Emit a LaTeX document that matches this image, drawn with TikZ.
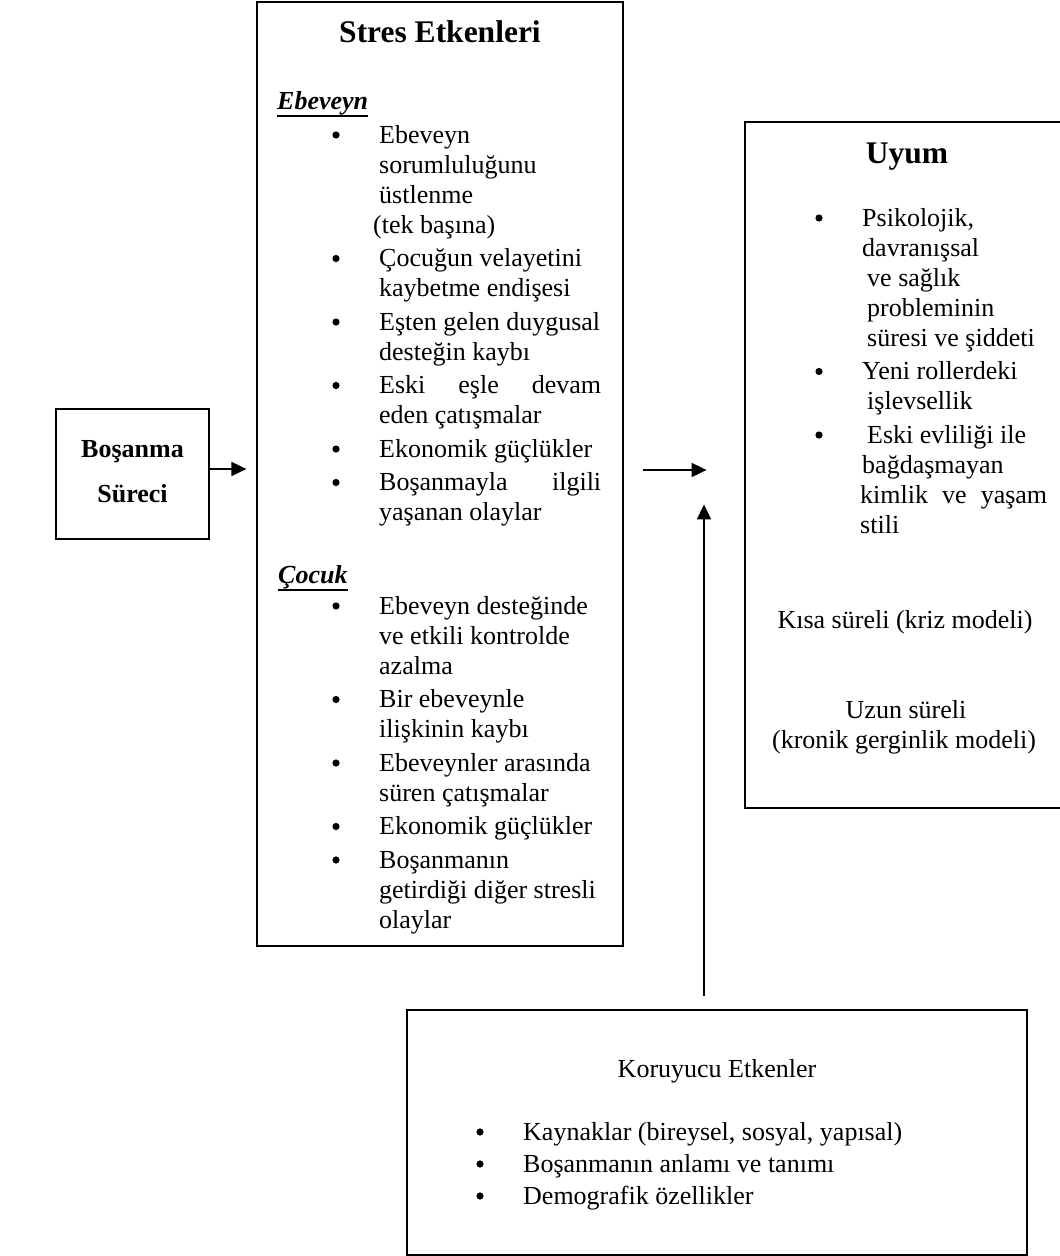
\documentclass[tikz,border=0pt]{standalone}
\usepackage{fontspec}
\setmainfont{Liberation Serif}
\usetikzlibrary{arrows.meta,calc}
\newcommand\hdrul[1]{\setbox0\hbox{#1}\rlap{\rule[-8pt]{\wd0}{1.8pt}}\box0}
\newcommand\jst[2]{\makebox[#1pt][s]{#2}}
\tikzset{
  box/.style={draw, line width=1.2pt, inner sep=0pt},
  ln/.style={anchor=base west, inner sep=0pt, font=\fontsize{26}{30}\selectfont},
  lnc/.style={anchor=base, inner sep=0pt, font=\fontsize{26}{30}\selectfont},
  ttl/.style={anchor=base, inner sep=0pt, font=\fontsize{31.5}{36}\selectfont\bfseries},
  bld/.style={anchor=base, inner sep=0pt, font=\fontsize{26}{30}\selectfont\bfseries},
  hdr/.style={anchor=base west, inner sep=0pt, font=\fontsize{26}{30}\selectfont\bfseries\itshape},
  conn/.style={line width=1.8pt, -{Triangle[length=15pt,width=14pt]}},
  blt/.style={fill=black}
}
\begin{document}
\begin{tikzpicture}[x=1pt,y=-1pt]
\useasboundingbox (0,0) rectangle (1060,1256);

% ---------- boxes ----------
\node[box, minimum width=153pt, minimum height=130pt] (bos) at (132.5,474) {};
\node[box, minimum width=366pt, minimum height=944pt] (stres) at (440,474) {};
\node[box, minimum width=330pt, minimum height=686pt] (uyum) at (910,465) {};
\node[box, minimum width=620pt, minimum height=245pt] (koru) at (717,1132.5) {};

% ---------- Boşanma Süreci ----------
\node[bld] (b1) at (132.5,457) {Boşanma};
\node[bld] (b2) at (132.5,502) {Süreci};

% ---------- Stres Etkenleri ----------
\node[ttl] (st) at (440,42) {Stres Etkenleri};
\node[hdr] (eh) at (277,109) {\hdrul{Ebeveyn}};
\node[ln] (e1a) at (379,143) {Ebeveyn};
\node[ln] (e1b) at (379,173) {sorumluluğunu};
\node[ln] (e1c) at (379,203) {üstlenme};
\node[ln] (e1d) at (373,233) {(tek başına)};
\node[ln] (e2a) at (379,266.5) {Çocuğun velayetini};
\node[ln] (e2b) at (379,296.5) {kaybetme endişesi};
\node[ln] (e3a) at (379,330) {Eşten gelen duygusal};
\node[ln] (e3b) at (379,360) {desteğin kaybı};
\node[ln] (e4a) at (379,393.5) {\jst{222}{Eski eşle devam}};
\node[ln] (e4b) at (379,423.5) {eden çatışmalar};
\node[ln] (e5a) at (379,457) {Ekonomik güçlükler};
\node[ln] (e6a) at (379,490.5) {\jst{222}{Boşanmayla ilgili}};
\node[ln] (e6b) at (379,520.5) {yaşanan olaylar};
\foreach \yy in {143,266.5,330,393.5,457,490.5} \fill[blt] (336,\yy-8) circle (3.6pt);

\node[hdr] (ch) at (278,583) {\hdrul{Çocuk}};
\node[ln] (c1a) at (379,614) {Ebeveyn desteğinde};
\node[ln] (c1b) at (379,644) {ve etkili kontrolde};
\node[ln] (c1c) at (379,674) {azalma};
\node[ln] (c2a) at (379,707.5) {Bir ebeveynle};
\node[ln] (c2b) at (379,737.5) {ilişkinin kaybı};
\node[ln] (c3a) at (379,771) {Ebeveynler arasında};
\node[ln] (c3b) at (379,801) {süren çatışmalar};
\node[ln] (c4a) at (379,834.5) {Ekonomik güçlükler};
\node[ln] (c5a) at (379,868) {Boşanmanın};
\node[ln] (c5b) at (379,898) {getirdiği diğer stresli};
\node[ln] (c5c) at (379,928) {olaylar};
\foreach \yy in {614,707.5,771,834.5,868} \fill[blt] (336,\yy-8) circle (3.6pt);

% ---------- Uyum ----------
\node[ttl] (ut) at (907,163) {Uyum};
\node[ln] (u1a) at (862,226) {Psikolojik,};
\node[ln] (u1b) at (862,256) {davranışsal};
\node[ln] (u1c) at (867,286) {ve sağlık};
\node[ln] (u1d) at (867,316) {probleminin};
\node[ln] (u1e) at (867,346) {süresi ve şiddeti};
\node[ln] (u2a) at (862,379.5) {Yeni rollerdeki};
\node[ln] (u2b) at (867,409.5) {işlevsellik};
\node[ln] (u3a) at (867,443) {Eski evliliği ile};
\node[ln] (u3b) at (862,473) {bağdaşmayan};
\node[ln] (u3c) at (860,503) {\jst{187}{kimlik ve yaşam}};
\node[ln] (u3d) at (860,533) {stili};
\foreach \yy in {226,379.5,443} \fill[blt] (819,\yy-8) circle (3.6pt);
\node[lnc] (uk) at (905,628) {Kısa süreli (kriz modeli)};
\node[lnc] (uu1) at (906,718) {Uzun süreli};
\node[lnc] (uu2) at (904,748) {(kronik gerginlik modeli)};

% ---------- Koruyucu Etkenler ----------
\node[lnc] (kt) at (717,1077) {Koruyucu Etkenler};
\node[ln] (k1) at (523,1140) {Kaynaklar (bireysel, sosyal, yapısal)};
\node[ln] (k2) at (523,1172) {Boşanmanın anlamı ve tanımı};
\node[ln] (k3) at (523,1204) {Demografik özellikler};
\foreach \yy in {1140,1172,1204} \fill[blt] (480,\yy-8) circle (3.6pt);

% ---------- connectors ----------
\draw[conn] ($(bos.east)+(0,-5)$) -- ($(stres.west)+(-10,-5)$);
\draw[conn] ($(stres.east)+(19,-4)$) -- ($(stres.east)+(83,-4)$);
\coordinate (upb) at ($(koru.north)+(-13,-13)$);
\coordinate (upt) at ($(koru.north)+(-13,-505)$);
\draw[conn] (upb) -- (upt);
\end{tikzpicture}
\end{document}
